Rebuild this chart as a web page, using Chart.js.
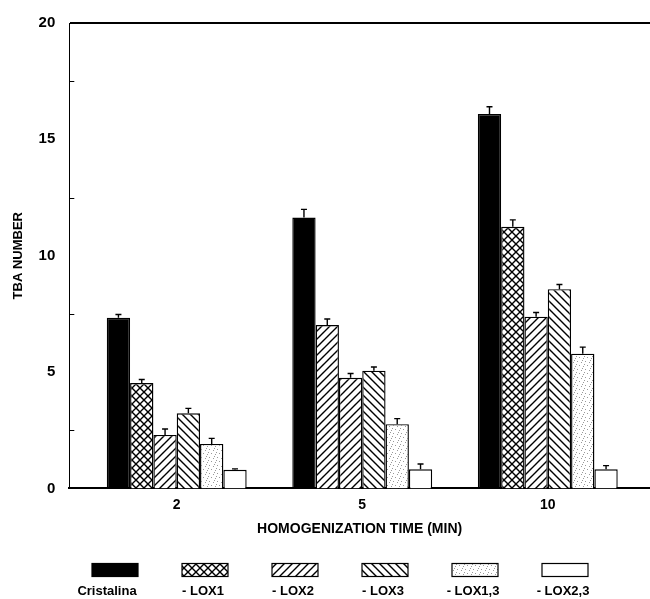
<!DOCTYPE html>
<html>
<head>
<meta charset="utf-8">
<script src="https://cdn.jsdelivr.net/npm/chart.js@4/dist/chart.umd.min.js"></script>
<style>
  html,body{margin:0;padding:0;background:#fff;}
  canvas{display:block;}
</style>
</head>
<body>
<canvas id="c" width="650" height="599"></canvas>
<script>
// TBA number vs homogenization time
const times = ['2', '5', '10'];
const seriesNames = ['Cristalina', '- LOX1', '- LOX2', '- LOX3', '- LOX1,3', '- LOX2,3'];
const cristalina = [7.33, 11.64, 16.09];
const lox1 = [4.53, 7.02, 11.24];
const lox2 = [2.30, 4.75, 7.38];
const lox3 = [3.23, 5.06, 8.56];
const lox13 = [1.91, 2.76, 5.79];
const lox23 = [0.80, 0.82, 0.82];
const errCristalina = [0.14, 0.35, 0.31];
const errLox1 = [0.15, 0.26, 0.30];
const errLox2 = [0.25, 0.19, 0.18];
const errLox3 = [0.21, 0.16, 0.20];
const errLox13 = [0.24, 0.24, 0.28];
const errLox23 = [0.04, 0.23, 0.16];
const yTicks = [0, 5, 10, 15, 20];

(function(){
  const cv=document.getElementById('c'); const ctx=cv.getContext('2d');
  function pat(kind){
    const t=document.createElement('canvas'); t.width=8; t.height=8; const g=t.getContext('2d');
    g.fillStyle='#fff'; g.fillRect(0,0,8,8); g.strokeStyle='#000'; g.lineWidth=1.4;
    const slash=()=>{g.beginPath(); g.moveTo(-2,10); g.lineTo(10,-2); g.moveTo(-2,2); g.lineTo(2,-2); g.moveTo(6,10); g.lineTo(10,6); g.stroke();};
    const back=()=>{g.beginPath(); g.moveTo(-2,-2); g.lineTo(10,10); g.moveTo(-2,6); g.lineTo(2,10); g.moveTo(6,-2); g.lineTo(10,2); g.stroke();};
    if(kind==='slash') slash();
    else if(kind==='back') back();
    else if(kind==='cross'){ slash(); back(); }
    else if(kind==='dots'){ g.fillStyle='#999'; [[1,1],[5,2],[3,5],[7,6],[0,4],[6,0]].forEach(([x,y])=>g.fillRect(x,y,1,1)); }
    return ctx.createPattern(t,'repeat');
  }
  const fills=[ '#000', pat('cross'), pat('slash'), pat('back'), pat('dots'), '#fff' ];
  const values=[cristalina,lox1,lox2,lox3,lox13,lox23];
  const errors=[errCristalina,errLox1,errLox2,errLox3,errLox13,errLox23];

  const datasets=seriesNames.map((name,i)=>({
    label:name,
    data:values[i].map((y,k)=>({x:k,y})),
    err:errors[i],
    // the 5 min LOX1 bar is drawn with the single hatch in the original
    backgroundColor: i===1 ? [fills[1],fills[2],fills[1]] : fills[i],
    legendFill: fills[i],
    borderColor:'#000', borderWidth:1.4, borderSkipped:'bottom',
    categoryPercentage:0.754, barPercentage:1
  }));

  const errorBars={id:'errorBars',afterDatasetsDraw(chart){
    const c=chart.ctx, ys=chart.scales.y;
    c.save(); c.strokeStyle='#000'; c.lineWidth=1.4;
    chart.data.datasets.forEach((ds,i)=>{
      chart.getDatasetMeta(i).data.forEach((el,k)=>{
        const top=ys.getPixelForValue(ds.data[k].y+ds.err[k]);
        c.beginPath(); c.moveTo(el.x,el.y); c.lineTo(el.x,top);
        c.moveTo(el.x-3,top); c.lineTo(el.x+3,top); c.stroke();
      });
    });
    c.restore();
  }};

  const innerTicks={id:'innerTicks',afterDraw(chart){
    const c=chart.ctx, ys=chart.scales.y, x0=chart.chartArea.left;
    c.save(); c.strokeStyle='#000'; c.lineWidth=1;
    for(let k=0;k<yTicks.length-1;k++){
      const y=Math.round(ys.getPixelForValue((yTicks[k]+yTicks[k+1])/2))+0.5;
      c.beginPath(); c.moveTo(x0,y); c.lineTo(x0+5,y); c.stroke();
    }
    c.restore();
  }};

  const legendBelow={id:'legendBelow',afterDraw(chart){
    const c=chart.ctx;
    c.save();
    chart.data.datasets.forEach((ds,i)=>{
      const sx=92+i*90, sy=563.5, w=46, h=13;
      c.fillStyle=ds.legendFill; c.fillRect(sx,sy,w,h);
      c.strokeStyle='#000'; c.lineWidth=1.2; c.strokeRect(sx,sy,w,h);
      c.fillStyle='#000'; c.font='bold 13px "Liberation Sans", Arial, sans-serif';
      c.textAlign='center'; c.textBaseline='middle';
      c.fillText(ds.label, sx+w/2-(i===0?8:2), 591);
    });
    c.restore();
  }};

  new Chart(cv,{
    type:'bar',
    data:{datasets},
    plugins:[errorBars,innerTicks,legendBelow],
    options:{
      responsive:false, animation:false,
      layout:{padding:{left:0,right:0,top:19,bottom:61.6}},
      plugins:{legend:{display:false},tooltip:{enabled:false}},
      scales:{
        x:{
          type:'linear', min:-0.579, max:2.551, bounds:'data', offset:false,
          afterBuildTicks:s=>{s.ticks=times.map((t,i)=>({value:i}));},
          grid:{display:false, offset:false},
          border:{display:true,color:'#000',width:2},
          ticks:{padding:0, color:'#000', autoSkip:false, maxRotation:0,
            font:{family:'"Liberation Sans", Arial, sans-serif',size:14,weight:'bold'},
            callback:v=>times[Math.round(v)]},
          title:{display:true,text:'HOMOGENIZATION TIME (MIN)',color:'#000',padding:{top:0,bottom:0},
            font:{family:'"Liberation Sans", Arial, sans-serif',size:14,weight:'bold'}},
          afterFit:s=>{s.height=49;}
        },
        y:{
          min:0, max:20,
          afterBuildTicks:s=>{s.ticks=yTicks.map(v=>({value:v}));},
          grid:{drawTicks:false, drawOnChartArea:true,
            color:c=>c.tick&&c.tick.value===20?'#000':'rgba(0,0,0,0)', lineWidth:c=>c.tick&&c.tick.value===20?2:0},
          border:{display:true,color:'#000',width:1},
          ticks:{padding:14,color:'#000',font:{family:'"Liberation Sans", Arial, sans-serif',size:15,weight:'bold'}},
          title:{display:true,text:'TBA NUMBER',color:'#000',padding:{top:11,bottom:0},
            font:{family:'"Liberation Sans", Arial, sans-serif',size:13,weight:'bold'}},
          afterFit:s=>{s.width=69.3;}
        }
      }
    }
  });
})();
</script>
</body>
</html>
